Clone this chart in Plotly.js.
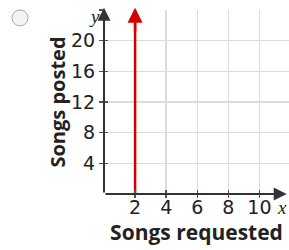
<!DOCTYPE html>
<html><head><meta charset="utf-8">
<script src="https://cdn.plot.ly/plotly-3.0.1.min.js"></script>
<style>html,body{margin:0;padding:0;background:#fff}#c{width:289px;height:250px}</style>
</head><body><div id="c"></div>
<script>
// data
const xTickVals = [2, 4, 6, 8, 10];
const xTickText = ['2', '4', '6', '8', '10'];
const yTickVals = [4, 8, 12, 16, 20, 24];
const yTickText = ['4', '8', '12', '16', '20', ''];
const lineX = [2, 2];
const lineY = [0, 24];
const xRange = [0, 11.9];
const yRange = [0, 24];

const axisColor = '#555';
const gridColor = '#dcdcdc';
const tickFont = {family: 'DejaVu Sans, sans-serif', size: 19, color: '#222'};
const xTitleFont = {family: 'Open Sans, sans-serif', size: 21, color: '#222', weight: 'bold'};
const yTitleFont = {family: 'Open Sans, sans-serif', size: 20, color: '#222', weight: 'bold'};

const traces = [
  {x: lineX, y: lineY, type: 'scatter', mode: 'lines', line: {color: '#d40000', width: 2.5}, hoverinfo: 'skip', showlegend: false},
  {x: [xRange[0]], y: [yRange[0]], xaxis: 'x2', yaxis: 'y2', type: 'scatter', mode: 'markers', marker: {opacity: 0}, hoverinfo: 'skip', showlegend: false},
  {x: [xRange[0]], y: [yRange[0]], xaxis: 'x3', yaxis: 'y2', type: 'scatter', mode: 'markers', marker: {opacity: 0}, hoverinfo: 'skip', showlegend: false}
];

const layout = {
  width: 289, height: 250,
  margin: {l: 104, r: 0, t: 10, b: 56},
  paper_bgcolor: '#fff', plot_bgcolor: '#fff',
  showlegend: false,
  xaxis: {
    range: xRange, tickvals: xTickVals, ticktext: xTickText,
    showgrid: true, gridcolor: gridColor, gridwidth: 1.5,
    zeroline: false, showline: false,
    ticks: '',
    tickfont: tickFont,
    title: {text: 'Songs requested', font: xTitleFont, standoff: 4}
  },
  yaxis: {
    range: yRange, tickvals: yTickVals, ticktext: yTickText,
    showgrid: true, gridcolor: gridColor, gridwidth: 1.5,
    zeroline: false, showline: false,
    ticks: 'outside', ticklen: 4, tickwidth: 1.5, tickcolor: axisColor,
    tickfont: tickFont,
    title: {text: 'Songs posted', font: yTitleFont, standoff: 0}
  },
  xaxis2: {overlaying: 'x', anchor: 'y2', range: xRange, tickvals: xTickVals, showticklabels: false,
    showgrid: false, zeroline: false, showline: false, ticks: 'outside', ticklen: 3, tickwidth: 1.5, tickcolor: axisColor},
  xaxis3: {overlaying: 'x', anchor: 'y2', range: xRange, tickvals: xTickVals, showticklabels: false,
    showgrid: false, zeroline: false, showline: false, ticks: 'inside', ticklen: 4, tickwidth: 1.5, tickcolor: axisColor},
  yaxis2: {overlaying: 'y', anchor: 'x2', range: yRange, tickvals: yTickVals.slice(0, 5), showticklabels: false,
    showgrid: false, zeroline: false, showline: false, ticks: 'inside', ticklen: 4, tickwidth: 1.5, tickcolor: axisColor},
  annotations: [
    {x: 0, y: yRange[1] + 0.3, ax: 0, ay: 0, xref: 'x', yref: 'y', axref: 'x', ayref: 'y', text: '', showarrow: true,
      arrowhead: 2, arrowsize: 1.3, arrowwidth: 2, arrowcolor: '#333', standoff: 0},
    {x: 11.75, y: 0, ax: 0, ay: 0, xref: 'x', yref: 'y', axref: 'x', ayref: 'y', text: '', showarrow: true,
      arrowhead: 2, arrowsize: 1.3, arrowwidth: 2, arrowcolor: '#333', standoff: 0},
    {x: lineX[1], y: lineY[1] + 0.3, ax: lineX[0], ay: lineY[1] - 3, xref: 'x', yref: 'y', axref: 'x', ayref: 'y', text: '', showarrow: true,
      arrowhead: 2, arrowsize: 1.2, arrowwidth: 2.5, arrowcolor: '#d40000', standoff: 0},
    {x: 0, y: yRange[1], xref: 'x', yref: 'y', text: 'y', showarrow: false, xanchor: 'right', yanchor: 'middle', xshift: -2, yshift: -6,
      font: {family: 'Liberation Serif, serif', size: 19, style: 'italic', color: '#222'}},
    {x: xRange[1], y: 0, xref: 'x', yref: 'y', text: 'x', showarrow: false, xanchor: 'right', yanchor: 'top', yshift: -1,
      font: {family: 'Liberation Serif, serif', size: 19, style: 'italic', color: '#222'}}
  ],
  shapes: [
    {type: 'circle', xref: 'paper', yref: 'paper', xsizemode: 'pixel', ysizemode: 'pixel',
      xanchor: -0.454, yanchor: 0.957, x0: -8, x1: 8, y0: -8, y1: 8,
      fillcolor: '#f3f3f3', line: {color: '#a8a8a8', width: 1}}
  ]
};

Plotly.newPlot('c', traces, layout, {staticPlot: true, displayModeBar: false});
</script></body></html>
